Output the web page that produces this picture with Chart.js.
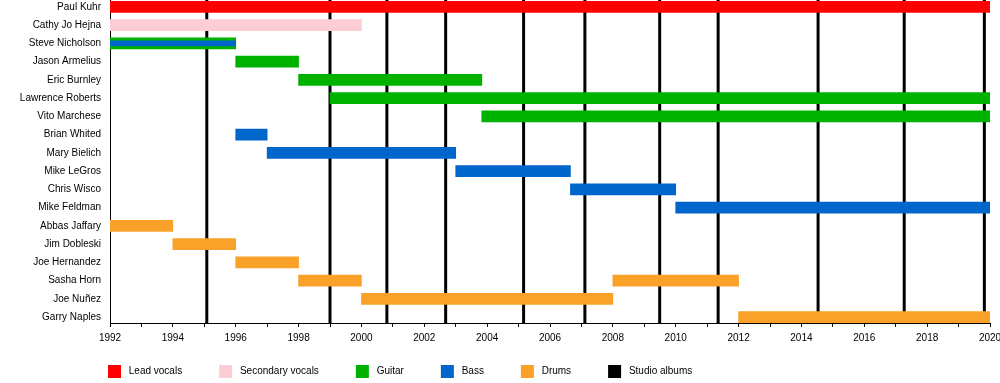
<!DOCTYPE html>
<html>
<head>
<meta charset="utf-8">
<script src="https://cdn.jsdelivr.net/npm/chart.js@4/dist/chart.umd.min.js"></script>
<style>
  body { margin: 0; background: #fff; }
  #wrap { width: 1000px; height: 383px; position: relative; }
</style>
</head>
<body>
<div id="wrap"><canvas id="timeline"></canvas></div>
<script>
const members = [
  "Paul Kuhr", "Cathy Jo Hejna", "Steve Nicholson", "Jason Armelius",
  "Eric Burnley", "Lawrence Roberts", "Vito Marchese", "Brian Whited",
  "Mary Bielich", "Mike LeGros", "Chris Wisco", "Mike Feldman",
  "Abbas Jaffary", "Jim Dobleski", "Joe Hernandez", "Sasha Horn",
  "Joe Nuñez", "Garry Naples"
];

// [member, from, to]
const leadVocals = [["Paul Kuhr", 1992, 2020]];
const secondaryVocals = [["Cathy Jo Hejna", 1992, 2000]];
const guitar = [
  ["Steve Nicholson", 1992, 1996],
  ["Jason Armelius", 1996, 1998],
  ["Eric Burnley", 1998, 2003.83],
  ["Lawrence Roberts", 1999, 2020],
  ["Vito Marchese", 2003.83, 2020]
];
const bass = [
  ["Brian Whited", 1996, 1997],
  ["Mary Bielich", 1997, 2003],
  ["Mike LeGros", 2003, 2006.65],
  ["Chris Wisco", 2006.65, 2010],
  ["Mike Feldman", 2010, 2020]
];
// second role, drawn as a thin stripe inside the guitar bar
const bassWithGuitar = [["Steve Nicholson", 1992, 1996]];
const drums = [
  ["Abbas Jaffary", 1992, 1994],
  ["Jim Dobleski", 1994, 1996],
  ["Joe Hernandez", 1996, 1998],
  ["Sasha Horn", 1998, 2000],
  ["Sasha Horn", 2008, 2012],
  ["Joe Nuñez", 2000, 2008],
  ["Garry Naples", 2012, 2020]
];
const studioAlbums = [1995.08, 1999.0, 2000.81, 2002.68, 2005.16, 2007.11,
  2009.49, 2011.35, 2014.53, 2017.27, 2019.82];

const yMin = -0.375;
const yMax = 17.32;
const font = "'Liberation Sans', Arial, sans-serif";

function spans(list) {
  return list.map((s) => ({ y: members.indexOf(s[0]), x: [s[1], s[2]] }));
}

function roleSet(label, list, color, extra) {
  return Object.assign({
    label: label,
    data: spans(list),
    backgroundColor: color,
    borderWidth: 0,
    barThickness: 11,
    grouped: false
  }, extra || {});
}

const albumLines = studioAlbums.flatMap((yr) => [
  { x: yr, y: yMin }, { x: yr, y: yMax }, { x: null, y: null }
]);

// put the legend row under the plot, starting at the axis
const legendPlacer = {
  id: "legendPlacer",
  afterLayout(chart) {
    const lg = chart.legend;
    const pad = lg.options.labels.padding;
    lg.left = chart.chartArea.left - 2 - pad;
    lg.top = chart.chartArea.bottom + 42 - pad;
  }
};

new Chart(document.getElementById("timeline"), {
  type: "bar",
  data: {
    datasets: [
      roleSet("Lead vocals", leadVocals, "#ff0000"),
      roleSet("Secondary vocals", secondaryVocals, "#fccdd4"),
      roleSet("Guitar", guitar, "#00b200"),
      roleSet("Bass", bass, "#0066cc"),
      roleSet("Drums", drums, "#faa12a"),
      {
        type: "line",
        label: "Studio albums",
        data: albumLines,
        borderColor: "#000",
        backgroundColor: "#000",
        borderWidth: 3,
        pointRadius: 0,
        spanGaps: false,
        order: 1
      },
      roleSet("Bass (shared)", bassWithGuitar, "#0066cc", { barThickness: 5, order: -1 })
    ]
  },
  options: {
    indexAxis: "y",
    responsive: true,
    maintainAspectRatio: false,
    animation: false,
    layout: { padding: { left: 0, right: 10, top: 0, bottom: 0 } },
    scales: {
      x: {
        type: "linear",
        min: 1992,
        max: 2020,
        grid: { drawOnChartArea: false, drawTicks: true, tickLength: 4, color: "#000" },
        border: { color: "#000", width: 1 },
        ticks: {
          stepSize: 1,
          autoSkip: false,
          maxRotation: 0,
          padding: 5,
          color: "#000",
          font: { family: font, size: 10 },
          callback: (v) => (v % 2 === 0 ? String(v) : "")
        },
        afterFit: (scale) => {
          scale.height = 22;
          scale.paddingLeft = 0;
          scale.paddingRight = 0;
        }
      },
      y: {
        type: "linear",
        reverse: true,
        offset: false,
        min: yMin,
        max: yMax,
        grid: { display: false, drawTicks: false },
        border: { display: true, color: "#000", width: 1 },
        afterBuildTicks: (scale) => {
          scale.ticks = members.map((m, i) => ({ value: i }));
        },
        ticks: {
          autoSkip: false,
          padding: 9,
          color: "#000",
          font: { family: font, size: 10 },
          callback: (v) => members[v]
        },
        afterFit: (scale) => {
          scale.width = 110;
          scale.paddingTop = 0;
          scale.paddingBottom = 0;
        }
      }
    },
    plugins: {
      tooltip: { enabled: false },
      legend: {
        position: "bottom",
        align: "start",
        maxHeight: 38,
        labels: {
          boxWidth: 13,
          boxHeight: 13,
          padding: 37,
          color: "#000",
          font: { family: font, size: 10 },
          filter: (item) => item.text.trim() !== "Bass (shared)",
          sort: (a, b) => a.datasetIndex - b.datasetIndex,
          // a little more room between the box and its text
          generateLabels: (chart) =>
            Chart.defaults.plugins.legend.labels.generateLabels(chart)
              .map((l) => Object.assign(l, { lineWidth: 0, text: " " + l.text }))
        }
      }
    }
  },
  plugins: [legendPlacer]
});
</script>
</body>
</html>
